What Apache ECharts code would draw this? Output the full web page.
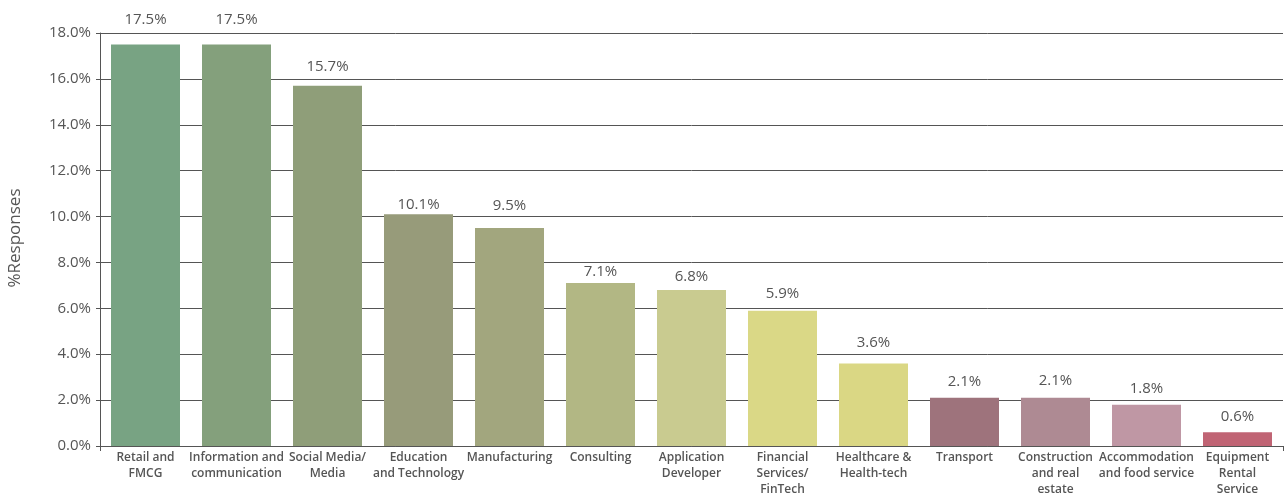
<!DOCTYPE html>
<html>
<head>
<meta charset="utf-8">
<script src="https://cdn.jsdelivr.net/npm/echarts@6/dist/echarts.min.js"></script>
<style>
  html, body { margin: 0; padding: 0; background: #fff; }
  #chart { width: 1284px; height: 495px; }
</style>
</head>
<body>
<div id="chart"></div>
<script>
// Industry sectors (wrapped for the axis labels)
const categories = [
  'Retail and\nFMCG',
  'Information and\ncommunication',
  'Social Media/\nMedia',
  'Education\nand Technology',
  'Manufacturing',
  'Consulting',
  'Application\nDeveloper',
  'Financial\nServices/\nFinTech',
  'Healthcare &\nHealth-tech',
  'Transport',
  'Construction\nand real\nestate',
  'Accommodation\nand food service',
  'Equipment\nRental\nService'
];

// Share of responses per sector, in percent
const responses = [17.5, 17.5, 15.7, 10.1, 9.5, 7.1, 6.8, 5.9, 3.6, 2.1, 2.1, 1.8, 0.6];

// One fill per bar
const barColors = [
  '#78a383', '#84a07c', '#8f9e79', '#979b7a', '#a2a67e', '#b2b784', '#c9cb90',
  '#dad886', '#dad784', '#9e737c', '#ae8a93', '#bf97a4', '#c06474'
];

// Gap (px) between each bar top and its value label
const labelLift = [17, 17, 12, 2.5, 15, 3.5, 5.5, 9.5, 13.5, 8.5, 9.5, 8.5, 7.5];

const textColor = '#555555';
const lineColor = '#555555';
const fontFamily = '"Open Sans", sans-serif';

const chart = echarts.init(document.getElementById('chart'));
chart.setOption({
  animation: false,
  grid: {
    left: 100, right: 1, top: 33, bottom: 49,
    containLabel: false,
    outerBoundsMode: 'none'
  },
  xAxis: {
    type: 'category',
    data: categories,
    axisLine: { show: true, lineStyle: { color: lineColor, width: 1 } },
    axisTick: {
      show: true,
      length: 5,
      interval: (index) => index === 0,
      lineStyle: { color: lineColor }
    },
    axisLabel: {
      interval: 0,
      color: textColor,
      fontFamily: fontFamily,
      fontSize: 12,
      fontWeight: 600,
      lineHeight: 16,
      margin: 4,
      verticalAlign: 'top'
    }
  },
  yAxis: {
    type: 'value',
    min: 0,
    max: 18,
    interval: 2,
    axisLine: { show: true, lineStyle: { color: lineColor, width: 1 } },
    axisTick: { show: true, length: 4, lineStyle: { color: lineColor } },
    axisLabel: {
      color: textColor,
      fontFamily: fontFamily,
      fontSize: 15,
      margin: 9,
      formatter: v => v.toFixed(1) + '%'
    },
    splitLine: { show: true, lineStyle: { color: lineColor, width: 1 } }
  },
  graphic: [{
    type: 'text',
    x: 15,
    y: 238,
    rotation: Math.PI / 2,
    style: {
      text: '%Responses',
      fill: textColor,
      font: '17px "Open Sans", sans-serif',
      textAlign: 'center',
      textVerticalAlign: 'middle'
    }
  }],
  series: [{
    type: 'bar',
    barWidth: 69,
    data: responses.map((v, i) => ({
      value: v,
      itemStyle: { color: barColors[i] },
      label: { distance: labelLift[i] }
    })),
    label: {
      show: true,
      position: 'top',
      color: textColor,
      fontFamily: fontFamily,
      fontSize: 15,
      formatter: p => p.value.toFixed(1) + '%'
    }
  }]
});
</script>
</body>
</html>
